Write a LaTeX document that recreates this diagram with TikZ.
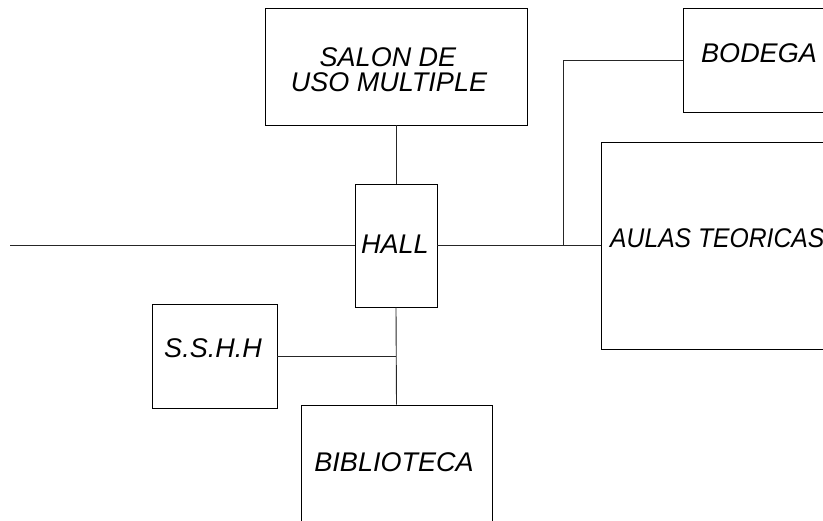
\documentclass[tikz,border=0pt]{standalone}
\usepackage{fontspec}
\setmainfont{Liberation Sans}
\begin{document}
\begin{tikzpicture}[x=1pt,y=-1pt,
  room/.style={draw=black,line width=0.9pt,rectangle,inner sep=0pt},
  lbl/.style={anchor=base,inner sep=0pt,font=\itshape\fontsize{27}{25}\selectfont,align=center},
  link/.style={draw=black!85,line width=0.9pt}]
\useasboundingbox (0,0) rectangle (823,521);
\clip (0,0) rectangle (823,521);
% rooms
\node[room,minimum width=262pt,minimum height=117pt] (salon) at (396,66.5) {};
\node[room,minimum width=82pt,minimum height=123pt] (hall) at (396,245.5) {};
\node[room,minimum width=260pt,minimum height=104pt] (bodega) at (813,60) {};
\node[room,minimum width=300pt,minimum height=207pt] (aulas) at (751,245.5) {};
\node[room,minimum width=125pt,minimum height=104pt] (sshh) at (214.5,356) {};
\node[room,minimum width=191pt,minimum height=140pt] (biblio) at (396.5,475) {};
% labels
\node[lbl] (tsalon1) at (388,67) {SALON DE};
\node[lbl] (tsalon2) at (389,92) {USO MULTIPLE};
\node[lbl] (thall) at (395,254) {HALL};
\node[lbl] (tbodega) at (759,63) {BODEGA};
\node[lbl,anchor=base west] (taulas) at (610,248) {\scalebox{0.915}[1]{AULAS TEORICAS}};
\node[lbl] (tsshh) at (213,358) {S.S.H.H};
\node[lbl] (tbiblio) at (394,472) {BIBLIOTECA};
% junctions
\coordinate (westend) at (10,245.5);
\coordinate (jb) at (563,245.5);
\coordinate (js) at (396,356);
% connectors
\draw[link] (salon.south) -- (hall.north);
\draw[link] (westend) -- (hall.west);
\draw[link] (hall.east) -- (aulas.west);
\draw[link] (jb) |- (bodega.west);
\draw[link] (hall.south) -- (biblio.north);
\draw[link] (sshh.east) -- (js);
\end{tikzpicture}
\end{document}
